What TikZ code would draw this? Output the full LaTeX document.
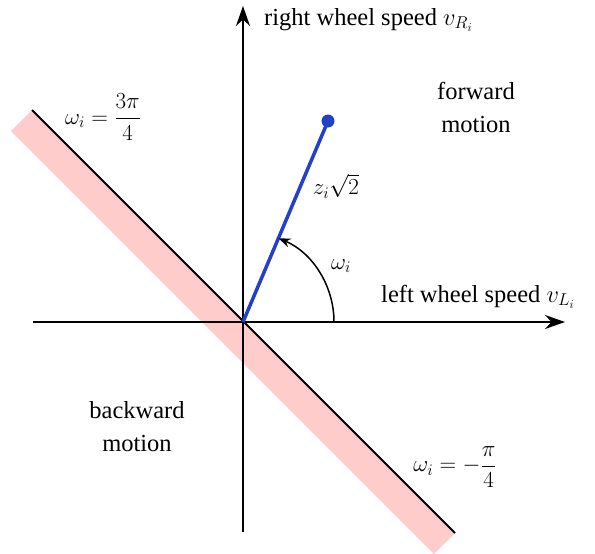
\documentclass[tikz,border=0pt]{standalone}
\usepackage{fix-cm}
\usepackage{amsmath}
\usepackage{fontspec}
\setmainfont{Liberation Serif}
\usetikzlibrary{arrows.meta,calc}
\definecolor{bandpink}{RGB}{255,204,204}
\definecolor{vecblue}{RGB}{34,64,200}
\tikzset{
  axis/.style={line width=1.5pt,-{Stealth[length=20pt,width=14pt]}},
  band/.style={fill=bandpink,draw=none},
  borderline/.style={line width=2pt,black},
  vec/.style={line width=3.5pt,vecblue},
  anglearc/.style={line width=1.5pt,-{Stealth[length=12pt,width=9pt]}},
  bigtext/.style={font=\fontsize{24.5}{33}\selectfont,inner sep=0pt},
  smalltext/.style={font=\fontsize{23}{27}\selectfont,inner sep=0pt},
}
\begin{document}
\begin{tikzpicture}[x=1pt,y=-1pt]
\useasboundingbox (0,0) rectangle (595,554);
% coordinates
\coordinate (O) at (243,322);
\coordinate (Bl) at (32,110);
\coordinate (Br) at (455,533);
\coordinate (Bl2) at (11,131);
\coordinate (Br2) at (434,554);
\coordinate (Xs) at (33,322);
\coordinate (Xe) at (565,322);
\coordinate (Ys) at (243,532);
\coordinate (Ye) at (243,6);
\coordinate (P) at (328,121);
% band
\fill[band] (Bl) -- (Br) -- (Br2) -- (Bl2) -- cycle;
% axes
\draw[axis] (Xs) -- (Xe);
\draw[axis] (Ys) -- (Ye);
\draw[borderline] (Bl) -- (Br);
% vector
\draw[vec] (O) -- (P);
\fill[vecblue] (P) circle (6.5);
% arc
\draw[anglearc] ($(O)+(91,0)$) arc[start angle=0,end angle=-67,radius=91];
% labels
\node[bigtext,anchor=base west] (ylab) at (264,25) {right wheel speed $v_{R_i}$};
\node[bigtext,anchor=base west] (xlab) at (381,302) {left wheel speed $v_{L_i}$};
\node[bigtext,align=center] (fwd) at (476,107) {forward\\motion};
\node[bigtext,align=center] (bwd) at (137,427) {backward\\motion};
\node[smalltext] (om) at (341,266) {$\omega_i$};
\node[smalltext] (zl) at (336,186) {$z_i\sqrt{2}$};
\node[smalltext] (l1) at (103,117) {$\omega_i = \dfrac{3\pi}{4}$};
\node[smalltext] (l2) at (455,467) {$\omega_i = -\dfrac{\pi}{4}$};
\end{tikzpicture}
\end{document}
